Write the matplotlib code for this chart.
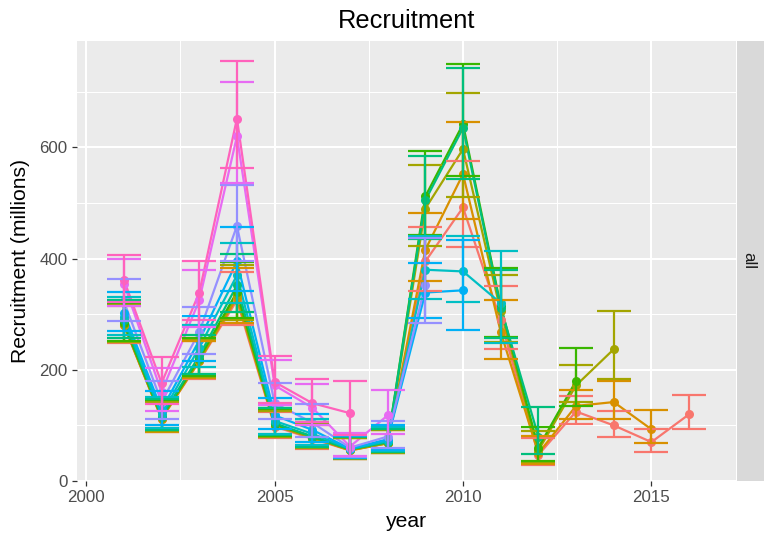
import numpy as np
import matplotlib
matplotlib.use("Agg")
import matplotlib.pyplot as plt

plt.rcParams['font.family'] = ['Liberation Sans', 'DejaVu Sans']

# retrospective peels of recruitment (millions), all start in 2001
first_year = 2001
peel_2016 = [280, 112, 215, 325, 98, 76, 55, 68, 395, 492, 289, 47, 125, 100, 70, 120]
peel_2015 = [281, 112, 216, 330, 100, 78, 55, 68, 416, 552, 268, 50, 135, 142, 93]
peel_2014 = [282, 113, 218, 335, 100, 78, 56, 68, 490, 597, 305, 55, 172, 237]
peel_2013 = [284, 115, 220, 340, 102, 80, 57, 70, 512, 642, 315, 60, 180]
peel_2012 = [289, 116, 225, 352, 104, 80, 57, 70, 505, 635, 312, 80]
peel_2011 = [295, 120, 240, 370, 108, 85, 58, 72, 380, 377, 320]
peel_2010 = [303, 128, 253, 395, 118, 92, 58, 75, 339, 343]
peel_2009 = [323, 142, 268, 459, 140, 105, 60, 80, 353]
peel_2008 = [355, 160, 325, 620, 172, 132, 62, 118]
peel_2007 = [362, 176, 339, 652, 178, 140, 122]

peels = [peel_2016, peel_2015, peel_2014, peel_2013, peel_2012,
         peel_2011, peel_2010, peel_2009, peel_2008, peel_2007]

# relative error (cv) by year, and the larger cv of each peel's last year
cv_year = [0.06, 0.12, 0.08, 0.075, 0.12, 0.14, 0.17, 0.15, 0.075, 0.08,
           0.10, 0.25, 0.10, 0.12, 0.15, 0.13]
cv_last = [0.13, 0.16, 0.13, 0.147, 0.26, 0.13, 0.12, 0.11, 0.165, 0.2]

# ggplot hue palette, 10 levels
colors = ["#F8766D", "#D89000", "#A3A500", "#39B600", "#00BF7D",
          "#00BFC4", "#00B0F6", "#9590FF", "#E76BF3", "#FF62BC"]

W, H = 764, 535
fig = plt.figure(figsize=(W / 100, H / 100), dpi=100)
px_l, px_r, px_t, px_b = 77, 736, 40.7, 481
ax = fig.add_axes([px_l / W, 1 - px_b / H, (px_r - px_l) / W, (px_b - px_t) / H])
ax.set_facecolor('#EBEBEB')
for s in ax.spines.values():
    s.set_visible(False)

ax.set_xlim(1999.755, 2017.245)
ax.set_ylim(0, 792)
ax.set_xticks([2000, 2005, 2010, 2015])
ax.set_xticks([2002.5, 2007.5, 2012.5], minor=True)
ax.set_yticks([0, 200, 400, 600])
ax.set_yticks([100, 300, 500, 700], minor=True)
ax.grid(which='major', color='white', linewidth=1.5)
ax.grid(which='minor', color='white', linewidth=0.75)
ax.set_axisbelow(True)
ax.tick_params(which='minor', length=0)
ax.tick_params(which='major', length=3.8, width=0.9, color='#333333',
               labelcolor='#4D4D4D', labelsize=12.2, pad=3)

cap = 0.45
lw = 1.6
for i, vals in enumerate(peels):
    yrs = np.arange(first_year, first_year + len(vals))
    ax.plot(yrs, vals, color=colors[i], lw=lw, zorder=2)
for i, vals in enumerate(peels):
    yrs = np.arange(first_year, first_year + len(vals))
    ax.plot(yrs, vals, 'o', color=colors[i], ms=6.5, mew=0, zorder=3)
for i, vals in enumerate(peels):
    yrs = np.arange(first_year, first_year + len(vals))
    v = np.array(vals, dtype=float)
    cv = np.array(cv_year[:len(vals)])
    cv[-1] = cv_last[i]
    lo = v * np.exp(-1.96 * cv)
    hi = v * np.exp(1.96 * cv)
    ax.vlines(yrs, lo, hi, color=colors[i], lw=lw, zorder=4)
    ax.hlines(lo, yrs - cap, yrs + cap, color=colors[i], lw=lw, zorder=4)
    ax.hlines(hi, yrs - cap, yrs + cap, color=colors[i], lw=lw, zorder=4)

# facet strip on the right
sx = fig.add_axes([737 / W, 1 - px_b / H, (W - 737) / W, (px_b - px_t) / H])
sx.set_facecolor('#D9D9D9')
sx.set_xticks([])
sx.set_yticks([])
for s in sx.spines.values():
    s.set_visible(False)
sx.text(0.45, 0.5, 'all', rotation=-90, ha='center', va='center',
        fontsize=12.2, color='#1A1A1A', transform=sx.transAxes)

fig.text((px_l + px_r) / 2 / W, 1 - 28 / H, 'Recruitment', ha='center',
         va='baseline', fontsize=18.3, color='black')
fig.text((px_l + px_r) / 2 / W, 1 - 527 / H, 'year', ha='center',
         va='baseline', fontsize=15.2, color='black')
fig.text(21 / W, 1 - (px_t + px_b) / 2 / H, 'Recruitment (millions)',
         rotation=90, ha='center', va='center', fontsize=15.2, color='black')

fig.savefig('out.png', dpi=100)
